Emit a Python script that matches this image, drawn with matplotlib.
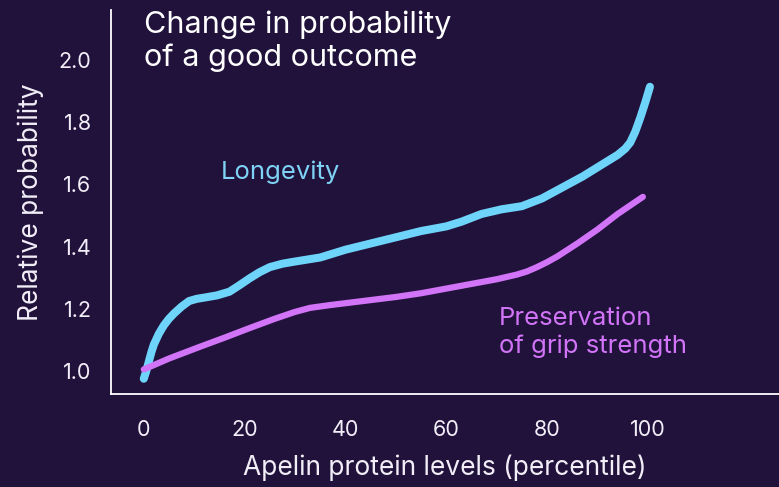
import matplotlib.pyplot as plt

# percentile positions and relative probability for each outcome
longevity_x = [0, 0.5, 1, 1.5, 2, 3, 4, 5, 6, 7.5, 9, 10.5, 12, 14.5, 17, 19, 21, 23, 25, 27.5, 30, 35, 40, 45, 50, 55, 60, 63, 67, 71, 75, 79, 83, 87, 91, 94, 95.5, 96.5, 97.5, 98.5, 99.5, 100.4]
longevity_y = [0.975, 1.0, 1.03, 1.06, 1.085, 1.12, 1.147, 1.168, 1.185, 1.207, 1.225, 1.232, 1.236, 1.243, 1.255, 1.276, 1.298, 1.318, 1.334, 1.345, 1.352, 1.365, 1.39, 1.41, 1.43, 1.45, 1.465, 1.48, 1.505, 1.52, 1.53, 1.555, 1.59, 1.625, 1.665, 1.695, 1.715, 1.735, 1.77, 1.815, 1.865, 1.914]

grip_x = [0, 5, 11, 16, 21, 26, 30, 33, 37, 41, 46, 50, 55, 60, 65, 70, 74, 76, 78, 80, 82, 86, 90, 94, 99]
grip_y = [1.005, 1.04, 1.077, 1.107, 1.138, 1.168, 1.19, 1.203, 1.212, 1.22, 1.23, 1.238, 1.25, 1.265, 1.28, 1.295, 1.31, 1.32, 1.334, 1.35, 1.368, 1.41, 1.455, 1.505, 1.56]

yticks = [1.0, 1.2, 1.4, 1.6, 1.8, 2.0]
xticks = [0, 20, 40, 60, 80, 100]

bg = '#21123c'
cyan = '#6fd4f9'
violet = '#d274f7'

plt.rcParams['font.family'] = ['Inter', 'DejaVu Sans']

fig = plt.figure(figsize=(7.79, 4.87), dpi=100, facecolor=bg)
ax = fig.add_axes([0.1425, 0.191, 0.8575, 0.7885])
ax.set_facecolor(bg)

ax.plot(longevity_x, longevity_y, color=cyan, lw=5.8, solid_capstyle='round', solid_joinstyle='round', zorder=3)
ax.plot(grip_x, grip_y, color=violet, lw=4.5, solid_capstyle='round', solid_joinstyle='round', zorder=4)

ax.set_xlim(-6.5, 126)
ax.set_ylim(0.926, 2.161)

for side in ['top', 'right']:
    ax.spines[side].set_visible(False)
for side in ['left', 'bottom']:
    ax.spines[side].set_color('white')
    ax.spines[side].set_linewidth(1.3)

ax.set_xticks(xticks)
ax.set_xticklabels([str(t) for t in xticks])
ax.set_yticks(yticks)
ax.set_yticklabels([f'{t:.1f}' for t in yticks])
ax.tick_params(axis='x', length=0, pad=19, labelsize=15.5, labelcolor='#f2eef7')
ax.tick_params(axis='y', length=0, pad=14, labelsize=15.5, labelcolor='#f2eef7')

ax.set_xlabel('Apelin protein levels (percentile)', fontsize=19, color='#f2eef7', labelpad=10)
ax.set_ylabel('Relative probability', fontsize=19, color='#f2eef7', labelpad=11)

ax.text(0, 2.158, 'Change in probability\nof a good outcome', fontsize=22, color='white',
        va='top', ha='left', linespacing=1.2)
ax.text(15.2, 1.64, 'Longevity', fontsize=18.5, color='#7ed2f4', va='center', ha='left')
ax.text(70.4, 1.125, 'Preservation\nof grip strength', fontsize=18.5, color=violet,
        va='center', ha='left', linespacing=1.25)

fig.savefig('out.png', dpi=100, facecolor=bg)
